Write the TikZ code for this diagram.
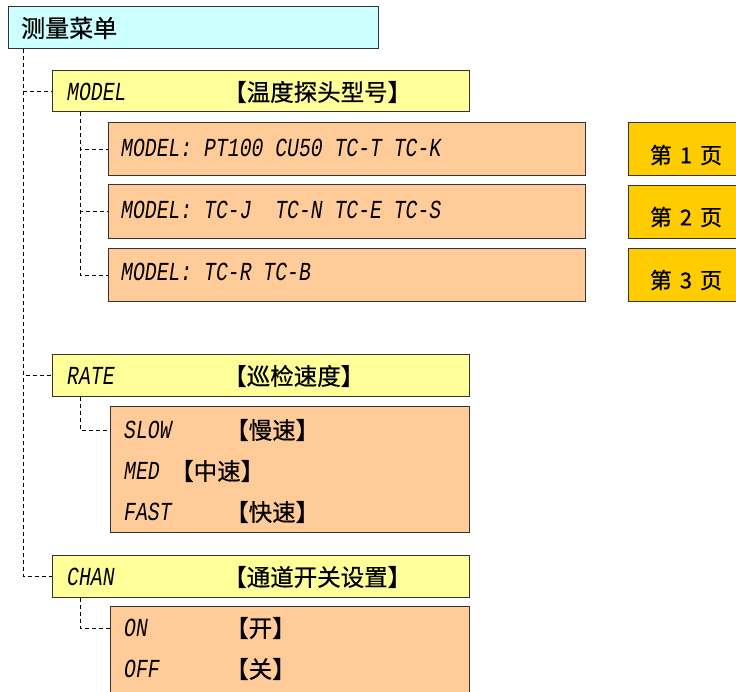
\documentclass[tikz,border=0pt]{standalone}
\usepackage{fontspec}
\newfontfamily\cjk{Noto Sans CJK SC}[FakeBold=0.6]
\newfontfamily\lcd{Liberation Mono Italic}[FakeStretch=0.76]
\tikzset{
  box/.style={draw=black!80, line width=1.1pt, anchor=north west, inner sep=0pt},
  pbox/.style={box, fill={rgb,255:red,255;green,204;blue,0}},
  lcdtxt/.style={anchor=west, inner sep=0pt, font=\lcd\fontsize{26}{26}\selectfont},
  cjktxt/.style={anchor=west, inner sep=0pt, font=\cjk\fontsize{23.5}{23.5}\selectfont},
  pagetxt/.style={anchor=center, inner sep=0pt, font=\cjk\fontsize{22}{22}\selectfont},
  link/.style={draw=black, line width=0.8pt, dash pattern=on 4pt off 3pt}
}
\definecolor{yellow}{RGB}{255,255,153}
\definecolor{cyan}{RGB}{204,255,255}
\definecolor{orange}{RGB}{255,204,153}
\begin{document}
\begin{tikzpicture}[x=1pt,y=-1pt]
\useasboundingbox (0,0) rectangle (736,691);
% boxes
\node[box, fill=cyan, minimum width=370pt, minimum height=42pt] (root) at (8,6) {};
\node[box, fill=yellow, minimum width=417pt, minimum height=41pt] (model) at (52,70) {};
\node[box, fill=orange, minimum width=477pt, minimum height=53pt] (s1) at (108,122) {};
\node[box, fill=orange, minimum width=477pt, minimum height=54pt] (s2) at (108,184) {};
\node[box, fill=orange, minimum width=477pt, minimum height=53pt] (s3) at (108,248) {};
\node[pbox, minimum width=115pt, minimum height=53pt] (p1) at (628,122) {};
\node[pbox, minimum width=115pt, minimum height=53pt] (p2) at (628,185) {};
\node[pbox, minimum width=115pt, minimum height=53pt] (p3) at (628,248) {};
\node[box, fill=yellow, minimum width=417pt, minimum height=42pt] (rate) at (52,354) {};
\node[box, fill=orange, minimum width=359pt, minimum height=126pt] (rbox) at (110,406) {};
\node[box, fill=yellow, minimum width=417pt, minimum height=42pt] (chan) at (52,555) {};
\node[box, fill=orange, minimum width=359pt, minimum height=95pt] (cbox) at (110,606) {};
% connectors
\coordinate (trunk) at ([xshift=15pt]root.south west);
\draw[link] (trunk) |- (model.west);
\draw[link] (trunk) |- (rate.west);
\draw[link] (trunk) |- (chan.west);
\coordinate (mtrunk) at ([xshift=28pt]model.south west);
\draw[link] (mtrunk) |- (s1.west);
\draw[link] (mtrunk) |- (s2.west);
\draw[link] (mtrunk) |- (s3.west);
\coordinate (rtrunk) at ([xshift=28pt]rate.south west);
\coordinate (rin) at ([yshift=-24pt]rbox.north west);
\draw[link] (rtrunk) |- (rin);
\coordinate (ctrunk) at ([xshift=28pt]chan.south west);
\coordinate (cin) at ([yshift=-22pt]cbox.north west);
\draw[link] (ctrunk) |- (cin);
% texts
\node[cjktxt, font=\cjk\fontsize{24}{24}\selectfont] (troot) at (21,28) {测量菜单};
\node[lcdtxt] (tmodel) at (67,92) {MODEL};
\node[cjktxt] (cmodel) at (223,92) {【温度探头型号】};
\node[lcdtxt] (t1) at (121,148) {MODEL: PT100 CU50 TC-T TC-K};
\node[lcdtxt] (t2) at (121,210) {MODEL: TC-J\ \ TC-N TC-E TC-S};
\node[lcdtxt] (t3) at (121,272) {MODEL: TC-R TC-B};
\node[pagetxt] (tp1) at (686,155) {第\hspace{8pt}1\hspace{8pt}页};
\node[pagetxt] (tp2) at (686,217) {第\hspace{8pt}2\hspace{8pt}页};
\node[pagetxt] (tp3) at (686,280) {第\hspace{8pt}3\hspace{8pt}页};
\node[lcdtxt] (trate) at (67,376) {RATE};
\node[cjktxt] (crate) at (223,376) {【巡检速度】};
\node[lcdtxt] (tslow) at (124,430) {SLOW};
\node[cjktxt] (cslow) at (225,430) {【慢速】};
\node[lcdtxt] (tmed) at (124,471) {MED};
\node[cjktxt] (cmed) at (170,471) {【中速】};
\node[lcdtxt] (tfast) at (124,512) {FAST};
\node[cjktxt] (cfast) at (225,512) {【快速】};
\node[lcdtxt] (tchan) at (67,577) {CHAN};
\node[cjktxt] (cchan) at (223,577) {【通道开关设置】};
\node[lcdtxt] (ton) at (124,628) {ON};
\node[cjktxt] (con) at (225,628) {【开】};
\node[lcdtxt] (toff) at (124,669) {OFF};
\node[cjktxt] (coff) at (225,669) {【关】};
\end{tikzpicture}
\end{document}
